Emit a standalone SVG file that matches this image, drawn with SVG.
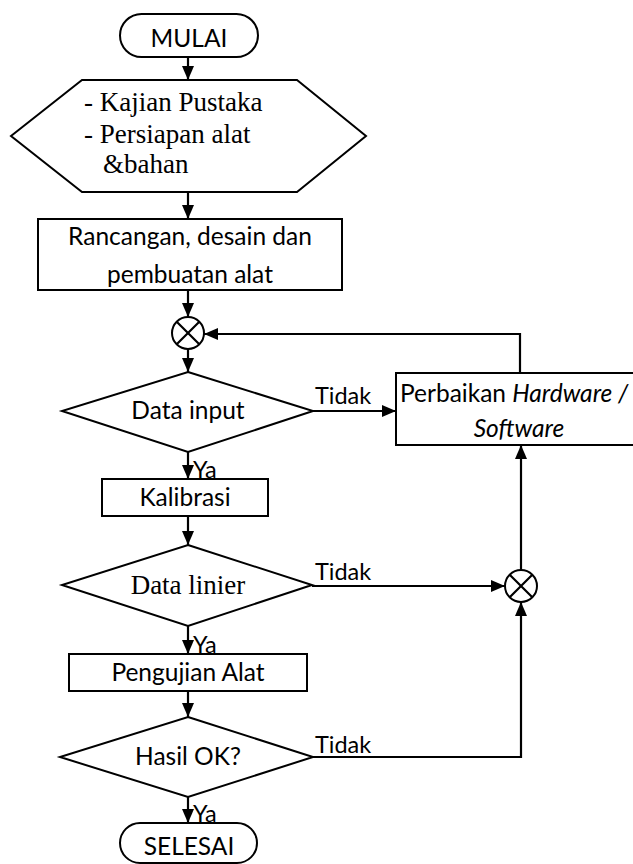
<svg xmlns="http://www.w3.org/2000/svg" width="633" height="864" viewBox="0 0 633 864">
<defs>
<marker id="ah" markerUnits="userSpaceOnUse" markerWidth="15" markerHeight="14" refX="14" refY="6" orient="auto">
<path d="M0,0 L14,6 L0,12 Z" fill="#000"/>
</marker>
<style>
.s{fill:#fff;stroke:#000;stroke-width:2}
.c{fill:none;stroke:#000;stroke-width:2.2}
.t{font-family:Lato,"Liberation Sans",sans-serif;font-size:24.5px;fill:#000}
.sm{font-family:Lato,"Liberation Sans",sans-serif;font-size:23.5px;fill:#000}
.r{font-family:"Liberation Serif","Times New Roman",serif;font-size:27px;fill:#000}
.m{text-anchor:middle}
</style>
</defs>
<rect width="633" height="864" fill="#fff"/>
<g id="connectors">
<line class="c" x1="188" y1="57" x2="188" y2="80" marker-end="url(#ah)"/>
<line class="c" x1="188" y1="192" x2="188" y2="219" marker-end="url(#ah)"/>
<line class="c" x1="188" y1="290" x2="188" y2="317" marker-end="url(#ah)"/>
<line class="c" x1="188" y1="349" x2="188" y2="372" marker-end="url(#ah)"/>
<line class="c" x1="313" y1="411" x2="396" y2="411" marker-end="url(#ah)"/>
<path class="c" d="M520,373 V334 H204" marker-end="url(#ah)"/>
<line class="c" x1="188" y1="452" x2="188" y2="479" marker-end="url(#ah)"/>
<line class="c" x1="188" y1="516" x2="188" y2="545" marker-end="url(#ah)"/>
<line class="c" x1="312" y1="586" x2="505" y2="586" marker-end="url(#ah)"/>
<line class="c" x1="521" y1="570" x2="521" y2="445" marker-end="url(#ah)"/>
<line class="c" x1="188" y1="626" x2="188" y2="654" marker-end="url(#ah)"/>
<line class="c" x1="188" y1="691" x2="188" y2="717" marker-end="url(#ah)"/>
<path class="c" d="M313,757 H521 V602" marker-end="url(#ah)"/>
<line class="c" x1="188" y1="797" x2="188" y2="823" marker-end="url(#ah)"/>
<text class="sm" x="315" y="404">Tidak</text>
<text class="sm" x="315" y="580">Tidak</text>
<text class="sm" x="315" y="753">Tidak</text>
<text class="sm" x="193" y="478">Ya</text>
<text class="sm" x="193" y="653">Ya</text>
<text class="sm" x="193" y="822">Ya</text>
</g>
<g id="mulai">
<rect class="s" x="120" y="14" width="138" height="43" rx="21.5"/>
<text class="t m" x="189" y="47">MULAI</text>
</g>
<g id="kajian">
<polygon class="s" points="11,136 82,80 297,80 366,136 297,192 82,192"/>
<text class="r" x="84" y="111">- Kajian Pustaka</text>
<text class="r" x="84" y="143">- Persiapan alat</text>
<text class="r" x="103" y="173">&amp;bahan</text>
</g>
<g id="rancangan">
<rect class="s" x="38" y="219" width="304" height="71"/>
<text class="t m" x="190" y="245">Rancangan, desain dan</text>
<text class="t m" x="190" y="283">pembuatan alat</text>
</g>
<g id="join1">
<circle class="s" cx="188" cy="333" r="16"/>
<path class="c" d="M176.7,321.7 L199.3,344.3 M199.3,321.7 L176.7,344.3" stroke-width="1.8"/>
</g>
<g id="datainput">
<polygon class="s" points="188,372 313,411 188,452 62,411"/>
<text class="t m" x="188" y="419">Data input</text>
</g>
<g id="perbaikan">
<rect class="s" x="396" y="373" width="250" height="72"/>
<text class="t" x="400" y="402">Perbaikan <tspan font-style="italic">Hardware /</tspan></text>
<text class="t m" x="519" y="437" font-style="italic">Software</text>
</g>
<g id="kalibrasi">
<rect class="s" x="102" y="479" width="166" height="37"/>
<text class="t m" x="185" y="506">Kalibrasi</text>
</g>
<g id="datalinier">
<polygon class="s" points="188,545 312,585 188,626 62,585"/>
<text class="r m" x="188" y="594">Data linier</text>
</g>
<g id="join2">
<circle class="s" cx="521" cy="586" r="16"/>
<path class="c" d="M509.7,574.7 L532.3,597.3 M532.3,574.7 L509.7,597.3" stroke-width="1.8"/>
</g>
<g id="pengujian">
<rect class="s" x="69" y="654" width="238" height="37"/>
<text class="t m" x="188" y="681">Pengujian Alat</text>
</g>
<g id="hasil">
<polygon class="s" points="188,717 313,757 188,797 60,757"/>
<text class="t m" x="188" y="765">Hasil OK?</text>
</g>
<g id="selesai">
<rect class="s" x="120" y="823" width="137" height="40" rx="20"/>
<text class="t m" x="189" y="855">SELESAI</text>
</g>
</svg>
